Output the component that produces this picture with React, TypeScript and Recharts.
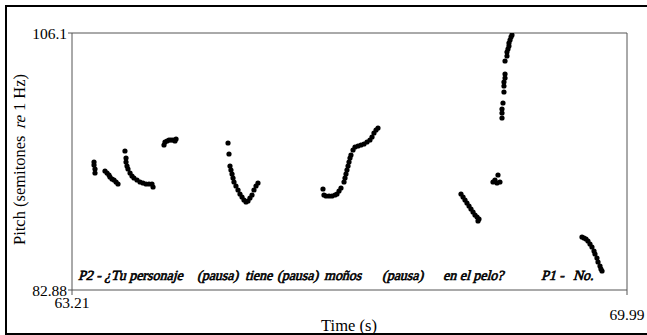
import { ReferenceLine, Scatter, ScatterChart, XAxis, YAxis } from "recharts";

const xDomain: [number, number] = [63.21, 69.99];
const yDomain: [number, number] = [82.88, 106.1];
const xTicks = [63.21, 69.99];
const yTicks = [82.88, 106.1];

// pitch track pieces, [time (s), pitch (st re 1 Hz)]
const track1 = [
  [63.479, 94.445], [63.479, 94.174], [63.491, 93.812], [63.491, 93.451],
];
const track2 = [
  [63.613, 93.632], [63.638, 93.451], [63.662, 93.27], [63.674, 93.09],
  [63.699, 92.909], [63.723, 92.819], [63.748, 92.638], [63.772, 92.457],
];
const track3 = [
  [63.857, 95.439], [63.87, 94.806], [63.87, 94.445], [63.882, 94.083],
  [63.894, 93.812], [63.919, 93.451], [63.943, 93.18], [63.967, 92.999],
  [64.004, 92.819], [64.041, 92.638], [64.077, 92.547], [64.114, 92.457],
  [64.151, 92.457], [64.187, 92.457], [64.2, 92.186],
];
const track4 = [
  [64.334, 95.981], [64.346, 96.252], [64.371, 96.342], [64.395, 96.433],
  [64.419, 96.433], [64.444, 96.433], [64.468, 96.342], [64.481, 96.523],
];
const track5 = [
  [65.116, 96.161], [65.128, 95.168], [65.14, 94.083], [65.152, 93.722],
  [65.165, 93.361], [65.177, 92.999], [65.189, 92.638], [65.213, 92.276],
  [65.238, 91.915], [65.262, 91.554], [65.287, 91.283], [65.311, 91.012],
  [65.336, 90.831], [65.36, 90.921], [65.384, 91.192], [65.409, 91.463],
  [65.433, 91.915], [65.458, 92.276], [65.482, 92.547],
];
const track6 = [
  [66.276, 92.005], [66.288, 91.463], [66.313, 91.373], [66.35, 91.373],
  [66.386, 91.373], [66.423, 91.463], [66.447, 91.554], [66.472, 91.825],
  [66.496, 92.096], [66.533, 92.638], [66.545, 92.999], [66.557, 93.361],
  [66.569, 93.722], [66.582, 94.083], [66.594, 94.445], [66.606, 94.806],
  [66.618, 95.077], [66.643, 95.529], [66.667, 95.8], [66.704, 95.89],
  [66.74, 95.981], [66.777, 96.071], [66.814, 96.252], [66.85, 96.433],
  [66.875, 96.704], [66.899, 97.065], [66.924, 97.336], [66.948, 97.517],
];
const track7 = [
  [67.962, 91.554], [67.987, 91.283], [68.011, 91.012], [68.035, 90.74],
  [68.06, 90.469], [68.084, 90.198], [68.109, 89.927], [68.133, 89.656],
  [68.158, 89.476], [68.182, 89.295], [68.17, 89.114],
];
const track8 = [
  [68.353, 92.638], [68.377, 92.819], [68.402, 92.547], [68.414, 93.27], [68.438, 92.638],
];
const track9 = [
  [68.463, 98.42], [68.463, 98.872], [68.463, 99.233], [68.475, 99.775],
  [68.487, 100.769], [68.487, 101.311], [68.487, 101.673], [68.5, 102.034],
  [68.5, 102.396], [68.5, 103.57], [68.524, 104.022], [68.524, 104.383],
  [68.536, 104.654], [68.548, 104.925], [68.548, 105.196], [68.561, 105.468],
  [68.573, 105.739], [68.585, 105.919],
];
const track10 = [
  [69.44, 87.669], [69.465, 87.578], [69.489, 87.488], [69.513, 87.307],
  [69.538, 87.036], [69.562, 86.765], [69.587, 86.404], [69.599, 86.133],
  [69.623, 85.771], [69.636, 85.41], [69.66, 85.048], [69.672, 84.777],
  [69.685, 84.597],
];

const tracks = [track1, track2, track3, track4, track5, track6, track7, track8, track9, track10];

const words = ["P2 - ¿Tu personaje", "(pausa)", "tiene", "(pausa)", "moños", "(pausa)", "en el pelo?", "P1 -", "No."];
const wordX = [78, 197, 245, 277, 324, 382, 443, 541, 573];

const SERIF = "Liberation Serif";
const AXIS = "#555";

const toPoints = (t: number[][]) => t.map(([time, pitch]) => ({ time, pitch }));

function Dot(props: any) {
  if (props.cx == null || props.cy == null) return null;
  return <circle cx={props.cx} cy={props.cy} r={2.6} fill="#000" />;
}

function TimeTick(props: any) {
  const { x, y, payload, index } = props;
  const dy = index === 0 ? 11 : 23;
  return (
    <text x={x} y={y + dy} textAnchor="middle" fontFamily={SERIF} fontSize={15.5} fill="#000">
      {payload.value}
    </text>
  );
}

export default function App() {
  return (
    <div style={{ position: "absolute", left: 0, top: 0, width: 647, height: 335, background: "#fff" }}>
      <div
        style={{
          position: "absolute",
          left: 5,
          top: 5,
          width: 642,
          height: 330,
          boxSizing: "border-box",
          borderTop: "2.5px solid #000",
          borderLeft: "2.5px solid #000",
          borderBottom: "2.5px solid #000",
        }}
      />
      <div style={{ position: "absolute", left: 0, top: 0 }}>
        <ScatterChart width={647} height={335} margin={{ top: 33, right: 20, bottom: 0, left: 0 }}>
          <XAxis
            type="number"
            dataKey="time"
            domain={xDomain}
            ticks={xTicks}
            allowDataOverflow
            height={45}
            stroke={AXIS}
            tickSize={5}
            tickMargin={2}
            tick={<TimeTick />}
          />
          <YAxis
            type="number"
            dataKey="pitch"
            domain={yDomain}
            ticks={yTicks}
            allowDataOverflow
            width={72}
            stroke={AXIS}
            tickSize={4}
            tickMargin={1}
            tick={{ fill: "#000", fontFamily: SERIF, fontSize: 15.5 }}
          />
          <ReferenceLine y={106.1} stroke={AXIS} />
          <ReferenceLine x={69.99} stroke={AXIS} />
          {tracks.map((t, i) => (
            <Scatter key={i} data={toPoints(t)} shape={<Dot />} isAnimationActive={false} />
          ))}
        </ScatterChart>
      </div>
      <svg width={647} height={335} style={{ position: "absolute", left: 0, top: 0, pointerEvents: "none" }}>
        {words.map((w, i) => (
          <text
            key={i}
            transform={`translate(${wordX[i]},280) skewX(-15)`}
            fontFamily={SERIF}
            fontSize={14}
            fill="#000"
            stroke="#000"
            strokeWidth={0.65}
          >
            {w}
          </text>
        ))}
        <text x={349} y={331} textAnchor="middle" fontFamily={SERIF} fontSize={16.5} fill="#000">
          Time (s)
        </text>
        <g transform="translate(25,161) rotate(-90)" fontFamily={SERIF} fontSize={16.5} fill="#000">
          <text x={-84} y={0}>
            Pitch (semitones
          </text>
          <text transform="translate(32,0) skewX(-15)">re</text>
          <text x={50} y={0}>
            1 Hz)
          </text>
        </g>
      </svg>
    </div>
  );
}
